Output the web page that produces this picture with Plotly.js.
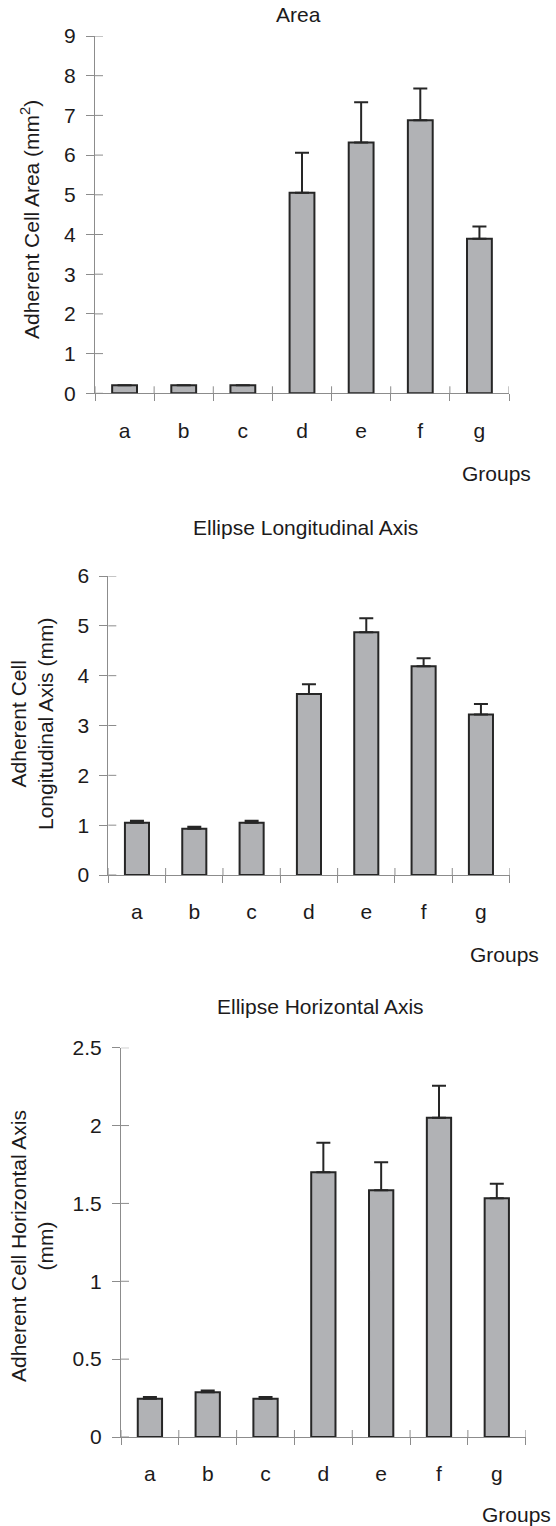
<!DOCTYPE html>
<html>
<head>
<meta charset="utf-8">
<script src="https://cdn.plot.ly/plotly-3.0.1.min.js"></script>
<style>html,body{margin:0;padding:0;background:#fff;}#chart{width:556px;height:1526px;}</style>
</head>
<body>
<div id="chart"></div>
<script>
// ---- data ----
const groups = ['a', 'b', 'c', 'd', 'e', 'f', 'g'];

const areaMean = [0.2, 0.2, 0.2, 5.05, 6.32, 6.88, 3.89];
const areaErr  = [0, 0, 0, 1.01, 1.01, 0.8, 0.31];

const longMean = [1.05, 0.93, 1.05, 3.63, 4.87, 4.19, 3.22];
const longErr  = [0.04, 0.04, 0.04, 0.2, 0.28, 0.16, 0.21];

const horzMean = [0.245, 0.287, 0.245, 1.70, 1.585, 2.05, 1.534];
const horzErr  = [0.012, 0.012, 0.012, 0.19, 0.18, 0.205, 0.092];

const areaTicks = [0, 1, 2, 3, 4, 5, 6, 7, 8, 9];
const longTicks = [0, 1, 2, 3, 4, 5, 6];
const horzTicks = [0, 0.5, 1, 1.5, 2, 2.5];
const horzTickText = ['0', '0.5', '1', '1.5', '2', '2.5'];

// ---- style ----
const W = 556, H = 1526;
const FONT = '"Liberation Sans", Arial, Helvetica, sans-serif';
const TXT = '#1c1a1b';
const AXIS = '#8c8c8c';
const BARFILL = '#b1b2b5';
const BAROUT = '#262626';
const px = v => v / W;
const py = v => 1 - v / H;

function barTrace(y, err, xa, ya) {
  return {
    type: 'bar', x: groups, y: y, xaxis: xa, yaxis: ya,
    width: 0.42,
    marker: {color: BARFILL, line: {color: BAROUT, width: 2}},
    error_y: {type: 'data', symmetric: false, array: err,
              arrayminus: err.map(() => 0), color: BAROUT, thickness: 2, width: 7},
    hoverinfo: 'x+y'
  };
}

const data = [
  barTrace(areaMean, areaErr, 'x', 'y'),
  barTrace(longMean, longErr, 'x2', 'y2'),
  barTrace(horzMean, horzErr, 'x3', 'y3')
];

function xAxis(domain, anchor) {
  return {
    domain: domain, anchor: anchor, type: 'category',
    range: [-0.5, groups.length - 0.5],
    showline: true, linecolor: AXIS, linewidth: 1,
    ticks: 'outside', tickson: 'boundaries', ticklen: 7, tickcolor: AXIS, tickwidth: 1,
    showgrid: false, zeroline: false, fixedrange: true,
    tickfont: {family: FONT, size: 21, color: TXT},
    ticklabelstandoff: 18,
    layer: 'below traces'
  };
}
function yAxis(domain, anchor, range, ticks, text) {
  const a = {
    domain: domain, anchor: anchor, range: range,
    tickmode: 'array', tickvals: ticks,
    showline: true, linecolor: AXIS, linewidth: 1,
    ticks: 'outside', ticklen: 8, tickcolor: AXIS, tickwidth: 1,
    showgrid: false, zeroline: false, fixedrange: true,
    tickfont: {family: FONT, size: 21, color: TXT},
    ticklabelstandoff: 6,
    layer: 'below traces'
  };
  if (text) a.ticktext = text;
  return a;
}

// cross-style tick marks (inner halves), generated from tick arrays
function crossShapes(xa, ya, yticks) {
  const s = [];
  yticks.forEach(v => s.push({
    type: 'line', xref: xa + ' domain', yref: ya, xsizemode: 'pixel', xanchor: 0,
    x0: 0, x1: 8, y0: v, y1: v, line: {color: AXIS, width: 1}, layer: 'below'
  }));
  for (let k = 0; k <= groups.length; k++) {
    s.push({
      type: 'line', xref: xa, yref: ya + ' domain', ysizemode: 'pixel', yanchor: 0,
      x0: k - 0.5, x1: k - 0.5, y0: 0, y1: 7, line: {color: AXIS, width: 1}, layer: 'below'
    });
  }
  return s;
}

function ann(text, x, y, extra) {
  return Object.assign({
    text: text, xref: 'paper', yref: 'paper', x: px(x), y: py(y),
    xanchor: 'center', yanchor: 'middle', showarrow: false,
    font: {family: FONT, size: 21, color: TXT}
  }, extra || {});
}

const layout = {
  width: W, height: H,
  margin: {l: 0, r: 0, t: 0, b: 0},
  paper_bgcolor: '#fff', plot_bgcolor: '#fff',
  showlegend: false, bargap: 0,
  font: {family: FONT, size: 21, color: TXT},
  xaxis: xAxis([px(95), px(509)], 'y'),
  yaxis: yAxis([py(393.3), py(36)], 'x', [0, 9], areaTicks),
  xaxis2: xAxis([px(108.3), px(509.6)], 'y2'),
  yaxis2: yAxis([py(875), py(576)], 'x2', [0, 6], longTicks),
  xaxis3: xAxis([px(121), px(525.7)], 'y3'),
  yaxis3: yAxis([py(1437), py(1047.7)], 'x3', [0, 2.5], horzTicks, horzTickText),
  shapes: [].concat(crossShapes('x', 'y', areaTicks), crossShapes('x2', 'y2', longTicks), crossShapes('x3', 'y3', horzTicks)),
  annotations: [
    ann('Area', 298, 15),
    ann('Ellipse Longitudinal Axis', 305.5, 527),
    ann('Ellipse Horizontal Axis', 320, 1006),
    ann('Adherent Cell Area (mm<sup>2</sup>)', 30, 220, {textangle: -90}),
    ann('Adherent Cell<br>Longitudinal Axis (mm)', 32, 724, {textangle: -90}),
    ann('Adherent Cell Horizontal Axis<br>(mm)', 32, 1246, {textangle: -90}),
    ann('Groups', 496, 473),
    ann('Groups', 504.5, 955),
    ann('Groups', 516, 1514)
  ]
};

Plotly.newPlot('chart', data, layout, {displayModeBar: false, staticPlot: true});
</script>
</body>
</html>
